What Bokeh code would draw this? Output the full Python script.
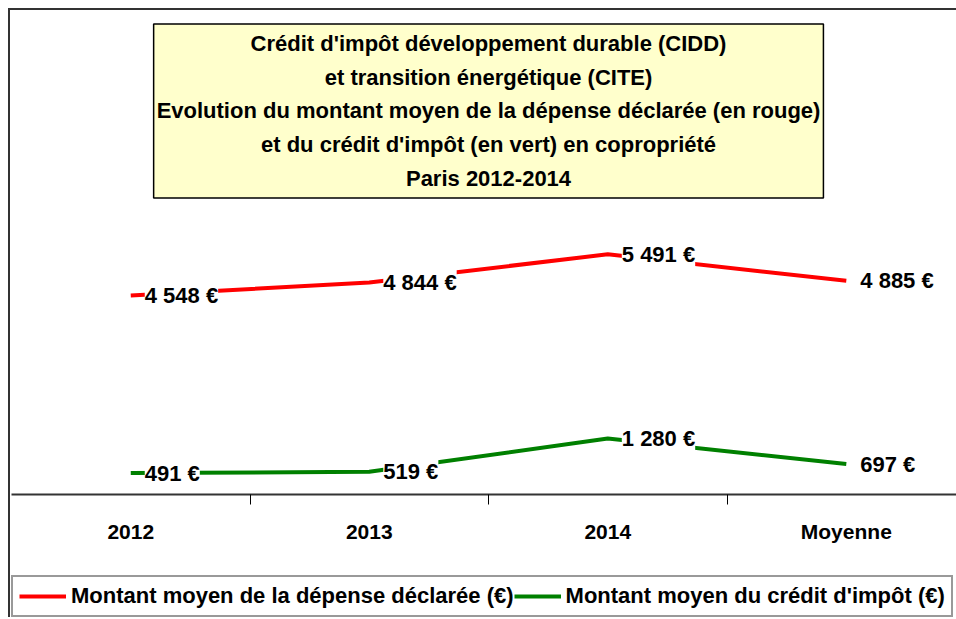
from bokeh.plotting import figure
from bokeh.models import (Range1d, FixedTicker, Legend, LegendItem, Label,
                          LabelSet, ColumnDataSource)
from bokeh.core.properties import value
from bokeh.embed import file_html
from bokeh.resources import INLINE

categories = ["2012", "2013", "2014", "Moyenne"]
depense = [4548, 4844, 5491, 4885]
credit = [491, 519, 1280, 697]
depense_labels = ["4 548 €", "4 844 €", "5 491 €", "4 885 €"]
credit_labels = ["491 €", "519 €", "1 280 €", "697 €"]
title_lines = [
    "Crédit d'impôt développement durable (CIDD)",
    "et transition énergétique (CITE)",
    "Evolution du montant moyen de la dépense déclarée (en rouge)",
    "et du crédit d'impôt (en vert) en copropriété",
    "Paris 2012-2014",
]
legend_labels = ["Montant moyen de la dépense déclarée (€)",
                 "Montant moyen du crédit d'impôt (€)"]

FONT = "Liberation Sans"
FS = "22px"
EDGE = "#333333"

xs = [i + 0.5 for i in range(len(categories))]
boundaries = [i for i in range(1, len(categories))]

src = ColumnDataSource(dict(x=xs, dep=depense, cred=credit,
                            dl=depense_labels, cl=credit_labels))

frame_css = ("linear-gradient(#333333,#333333) 8px 8px / 2px 610px no-repeat, "
             "linear-gradient(#333333,#333333) 8px 8px / 948px 2px no-repeat, "
             "#ffffff")

p = figure(width=956, height=617, frame_width=945, frame_height=484,
           output_backend="svg", toolbar_location=None, sizing_mode="fixed",
           x_range=Range1d(0, 3.962), y_range=Range1d(0, 11064),
           y_axis_location=None, min_border_left=11, min_border_right=0,
           min_border_top=10, min_border_bottom=0,
           styles={"background": frame_css})
p.outline_line_color = None
p.border_fill_color = None
p.background_fill_color = None
p.xgrid.visible = False
p.ygrid.visible = False

r1 = p.line("x", "dep", source=src, line_color="#FF0000", line_width=4)
r2 = p.line("x", "cred", source=src, line_color="#008000", line_width=4)

for col, y in [("dl", "dep"), ("cl", "cred")]:
    ls = LabelSet(x="x", y=y, text=col, source=src, x_offset=14,
                  text_align="left", text_baseline="middle",
                  text_font=value(FONT), text_font_size=value(FS),
                  text_font_style=value("bold"),
                  text_color="#000000", background_fill_color="white")
    p.add_layout(ls)

title = Label(x=2.0, y=8768, text="\n".join(title_lines),
              text_align="center", text_baseline="middle",
              text_font=FONT, text_font_size=FS, text_font_style="bold",
              text_color="#000000",
              text_line_height=1.35, background_fill_color="#FFFFCC",
              border_line_color="#000000", border_line_width=1.5,
              padding=dict(left=3, right=3, top=7, bottom=7))
p.add_layout(title)

ax = p.xaxis[0]
ax.ticker = FixedTicker(ticks=xs, minor_ticks=boundaries)
# a trailing empty line under each category reserves the space above the legend
ax.major_label_overrides = {x: c + "\n" for x, c in zip(xs, categories)}
ax.major_tick_line_color = None
ax.minor_tick_line_color = "#000000"
ax.minor_tick_in = 0
ax.minor_tick_out = 10
ax.axis_line_width = 2
ax.axis_line_color = EDGE
ax.major_label_standoff = 15
ax.major_label_text_font = FONT
ax.major_label_text_font_size = "21px"
ax.major_label_text_font_style = "bold"
ax.major_label_text_color = "#000000"
ax.major_label_text_line_height = 0.85

legend = Legend(items=[LegendItem(label=legend_labels[0], renderers=[r1]),
                       LegendItem(label=legend_labels[1], renderers=[r2])],
                orientation="horizontal", location="bottom_left", margin=0,
                padding=6, spacing=0, label_standoff=5, glyph_width=47,
                label_text_font=FONT, label_text_font_size=FS,
                label_text_font_style="bold", label_text_color="#000000",
                border_line_color=EDGE, border_line_width=2,
                background_fill_color="white", background_fill_alpha=1)
p.add_layout(legend, "below")

open("out.html", "w").write(file_html(p, INLINE))
